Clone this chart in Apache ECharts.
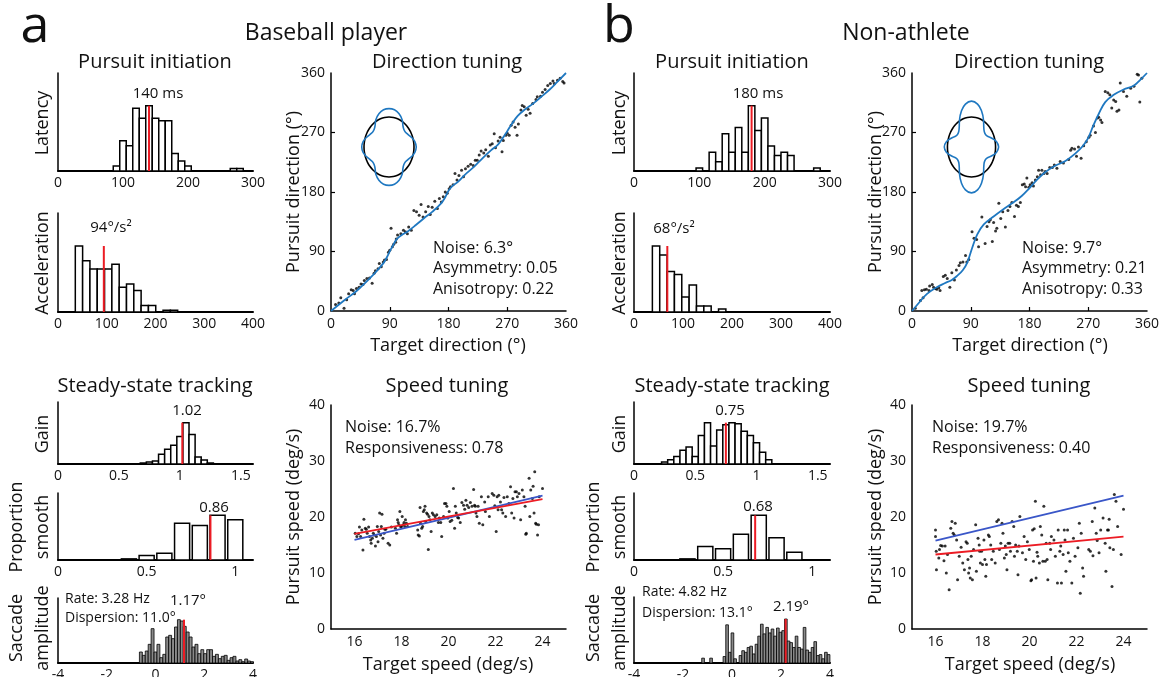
<!DOCTYPE html>
<html>
<head>
<meta charset="utf-8">
<title>Baseball player vs non-athlete</title>
<script src="https://cdn.jsdelivr.net/npm/echarts@6/dist/echarts.min.js"></script>
<style>
html, body { margin: 0; padding: 0; background: #fff; }
#chart { width: 1161px; height: 677px; }
</style>
</head>
<body>
<div id="chart"></div>
<script>
// ---- values ----
// histograms: [bin centre, count]
const latencyBaseball = [[90,2],[100,12],[110,10],[120,25],[130,21],[140,26],[150,21],[160,20],[170,20],[180,7],[190,4],[200,2],[270,1],[280,1]]
const accelBaseball = [[43,40],[58,31],[73,26],[88,26],[103,26],[118,29],[133,15],[148,17],[163,13],[178,4],[193,4],[223,1],[238,1]]
const gainBaseball = [[0.70,1],[0.75,2],[0.80,3],[0.85,10],[0.90,15],[0.95,19],[1.00,28],[1.05,42],[1.10,30],[1.15,7],[1.20,4],[1.25,1]]
const smoothBaseball = [[0.4,1],[0.5,4],[0.6,6],[0.7,33],[0.8,31],[0.9,40],[1.0,36]]
const saccadeBaseball = [33,23,36,56,103,33,56,16,26,78,83,73,108,130,126,110,93,78,48,56,28,40,28,40,40,20,26,13,20,23,8,16,20,6,10,4,12,6,4]
const saccadeBaseballBins = [-0.6, 0.12] // first centre, width
const meansBaseball = [140, 94, 1.02, 0.86, 1.17]

const latencyNonAthlete = [[100,1],[120,6],[130,3],[140,12],[150,6],[160,14],[170,6],[180,21],[190,13],[200,17],[210,8],[220,5],[230,6],[240,5],[280,1]]
const accelNonAthlete = [[45,44],[60,38],[75,27],[90,25],[105,10],[120,18],[135,4],[150,4],[180,2]]
const gainNonAthlete = [[0.25,2],[0.30,4],[0.35,7],[0.40,13],[0.45,16],[0.50,7],[0.55,27],[0.60,39],[0.65,17],[0.70,32],[0.75,37],[0.80,39],[0.85,38],[0.90,31],[0.95,27],[1.00,20],[1.05,11],[1.10,4]]
const smoothNonAthlete = [[0.3,1],[0.4,12],[0.5,10],[0.6,23],[0.7,40],[0.8,20],[0.9,7]]
const saccadeNonAthlete = [15,0,0,15,0,0,0,0,20,118,33,93,13,0,23,38,33,48,52,28,58,83,120,90,110,93,105,83,108,95,100,136,68,63,48,83,48,43,110,40,33,48,66,23,26,13,33,26]
const saccadeNonAthleteBins = [-1.181, 0.109]
const meansNonAthlete = [180, 68, 0.75, 0.68, 2.19]

// direction tuning: [target, pursuit] in degrees
const dirBaseball = [[7,10],[12,12],[15,20],[20,4],[24,17],[27,26],[31,32],[34,31],[36,26],[39,34],[43,36],[46,41],[49,40],[51,46],[55,49],[59,50],[63,42],[66,57],[68,61],[72,64],[74,72],[77,67],[80,74],[82,77],[85,78],[88,89],[90,92],[92,125],[94,97],[96,101],[99,104],[100,109],[102,115],[107,117],[111,122],[114,120],[117,117],[119,127],[123,122],[127,152],[131,150],[135,145],[138,161],[141,142],[145,150],[149,158],[152,146],[155,157],[159,166],[163,155],[166,170],[169,165],[172,173],[175,180],[178,178],[181,185],[183,188],[187,191],[190,208],[193,198],[196,205],[200,213],[203,203],[206,215],[210,219],[214,222],[218,220],[221,228],[224,228],[227,236],[230,242],[234,239],[237,244],[241,234],[244,251],[247,253],[250,268],[252,247],[256,257],[259,263],[262,241],[264,258],[268,266],[270,269],[273,266],[276,281],[279,286],[282,278],[285,266],[287,283],[291,304],[293,311],[296,309],[299,296],[302,305],[305,299],[309,314],[314,320],[316,324],[321,325],[324,331],[328,335],[332,341],[336,344],[340,348],[342,344],[347,349],[351,352],[355,347],[357,345]]
const dirFitBaseball = [[0,0],[20,16],[40,31],[66,56],[80,72],[86,82],[91,92],[96,101],[101,109],[110,116],[117,120],[130,130],[142,140],[155,150],[168,162],[175,172],[180,182],[187,190],[194,195],[205,206],[219,218],[232,231],[245,243],[255,251],[262,260],[270,272],[277,283],[286,295],[296,304],[310,314],[322,324],[335,335],[347,347],[360,360]]
const dirNonAthlete = [[5,4],[13,16],[17,20],[15,31],[19,32],[22,33],[26,31],[27,38],[31,40],[33,36],[36,34],[38,33],[41,35],[43,31],[48,52],[51,54],[54,49],[58,36],[61,58],[65,47],[68,62],[72,69],[74,73],[78,74],[82,84],[84,74],[87,78],[92,120],[95,110],[99,108],[102,97],[107,142],[112,102],[115,128],[118,135],[120,138],[123,105],[125,134],[128,121],[130,125],[133,163],[136,140],[139,150],[143,127],[147,152],[150,158],[153,164],[157,143],[160,160],[163,158],[166,164],[169,191],[172,192],[174,188],[176,201],[179,187],[181,191],[184,194],[186,189],[189,198],[192,203],[194,213],[197,206],[199,213],[202,208],[204,211],[207,208],[211,217],[215,217],[218,221],[222,216],[227,226],[232,224],[240,229],[243,243],[245,246],[249,245],[252,234],[255,248],[259,231],[263,250],[267,256],[271,263],[273,266],[278,280],[281,270],[284,292],[286,293],[289,289],[291,285],[296,332],[300,330],[303,327],[306,307],[309,319],[312,317],[314,302],[317,304],[319,345],[324,332],[329,325],[335,337],[340,340],[345,358],[347,357],[349,316],[352,352]]
const dirFitNonAthlete = [[0,0],[12,14],[23,26],[38,36],[50,42],[61,47],[70,54],[78,62],[85,74],[92,95],[100,116],[110,131],[125,143],[140,154],[155,164],[168,174],[180,186],[192,199],[204,210],[218,219],[235,227],[250,238],[262,250],[270,262],[278,281],[286,298],[296,316],[309,327],[324,335],[340,341],[350,350],[360,360]]

// polar insets: radius every 10 deg over one quadrant (0..90), mirrored
const insetBaseball = [1.09,1.05,0.95,0.86,0.82,0.88,1.05,1.18,1.26,1.28]
const insetNonAthlete = [1.13,1.05,0.88,0.74,0.72,0.80,1.00,1.25,1.45,1.53]

// speed tuning: [target, pursuit] in deg/s
const speedBaseball = [[16.03,17.1],[16.10,16.5],[16.17,17.0],[16.21,18.2],[16.26,16.5],[16.31,17.7],[16.36,14.1],[16.40,19.6],[16.46,18.0],[16.50,17.8],[16.54,17.1],[16.60,18.2],[16.64,16.5],[16.69,15.9],[16.71,15.3],[16.76,16.2],[16.80,17.1],[16.84,16.8],[16.89,14.8],[16.93,16.5],[16.97,18.3],[17.00,15.6],[17.03,17.4],[17.07,20.7],[17.11,16.8],[17.14,18.3],[17.17,20.5],[17.21,16.2],[17.26,17.1],[17.29,17.8],[17.33,17.8],[17.43,15.3],[17.50,15.0],[17.57,18.2],[17.74,18.0],[17.79,17.1],[17.83,19.5],[17.86,19.0],[17.89,18.6],[17.93,21.0],[17.96,18.3],[18.00,18.3],[18.03,20.1],[18.07,18.6],[18.11,19.0],[18.14,18.3],[18.17,19.5],[18.21,18.9],[18.26,18.3],[18.69,17.7],[18.71,16.8],[18.76,16.6],[18.79,21.7],[18.81,18.9],[18.86,18.0],[18.90,18.3],[18.93,21.0],[18.97,21.3],[19.00,21.9],[19.03,19.2],[19.07,20.7],[19.11,20.5],[19.14,14.2],[19.17,20.1],[19.21,19.5],[19.26,17.4],[19.31,20.7],[19.36,20.4],[19.43,20.1],[19.50,20.4],[19.57,19.0],[19.61,19.8],[19.67,19.0],[19.71,16.5],[19.79,20.1],[19.83,22.4],[19.89,22.4],[19.93,21.9],[19.97,19.8],[20.03,21.0],[20.07,19.2],[20.14,19.4],[20.21,25.1],[20.26,18.0],[20.29,21.9],[20.33,20.7],[20.39,19.9],[20.43,19.8],[20.50,19.0],[20.57,22.6],[20.64,22.1],[20.69,21.4],[20.74,23.0],[20.79,22.1],[20.86,21.7],[20.93,22.6],[21.00,21.9],[21.07,24.9],[21.11,22.1],[21.14,21.9],[21.17,20.7],[21.21,20.1],[21.26,21.9],[21.31,18.9],[21.40,23.6],[21.46,18.6],[21.54,22.7],[21.57,21.0],[21.69,23.6],[21.74,20.1],[21.86,24.2],[21.93,23.9],[21.97,22.0],[22.03,17.4],[22.07,23.6],[22.11,21.3],[22.14,23.9],[22.21,22.7],[22.26,21.3],[22.31,20.7],[22.36,23.5],[22.43,20.1],[22.50,23.6],[22.57,22.4],[22.64,25.4],[22.69,20.7],[22.74,23.3],[22.79,19.8],[22.83,24.5],[22.89,24.5],[22.93,23.6],[23.00,24.2],[23.07,19.5],[23.14,24.8],[23.21,23.6],[23.26,21.9],[23.29,16.9],[23.31,17.1],[23.43,26.9],[23.46,20.1],[23.50,24.8],[23.57,23.3],[23.60,25.5],[23.64,20.7],[23.67,28.1],[23.71,18.9],[23.74,18.7],[23.79,16.8],[23.83,18.6],[23.86,23.6],[24.00,25.1]]
const speedNonAthlete = [[16.00,17.7],[16.00,16.5],[16.03,13.9],[16.04,10.6],[16.14,12.7],[16.17,14.2],[16.22,14.9],[16.29,14.8],[16.36,12.2],[16.41,14.8],[16.46,10.0],[16.51,13.3],[16.58,7.0],[16.65,18.0],[16.70,19.2],[16.75,17.1],[16.80,16.8],[16.84,18.9],[16.90,15.9],[16.94,8.8],[17.01,13.0],[17.09,14.6],[17.16,11.8],[17.23,10.6],[17.30,15.6],[17.35,15.3],[17.38,12.4],[17.41,10.0],[17.45,10.9],[17.48,9.1],[17.52,13.0],[17.57,8.8],[17.62,14.2],[17.71,18.6],[17.74,10.3],[17.81,16.2],[17.86,15.0],[17.88,13.9],[17.91,11.8],[17.96,13.9],[18.00,11.5],[18.06,15.9],[18.10,12.4],[18.14,9.4],[18.17,11.5],[18.25,16.8],[18.29,16.5],[18.35,15.0],[18.39,12.4],[18.46,13.9],[18.54,11.8],[18.61,19.2],[18.68,19.5],[18.72,14.2],[18.78,15.3],[18.83,18.9],[18.87,17.1],[18.93,12.7],[18.97,14.8],[19.01,13.3],[19.04,10.6],[19.09,15.3],[19.16,15.3],[19.19,13.9],[19.26,19.2],[19.33,18.3],[19.36,13.0],[19.41,15.0],[19.48,13.9],[19.51,9.7],[19.55,14.8],[19.59,20.1],[19.70,13.6],[19.77,16.5],[19.84,12.4],[19.91,15.6],[19.99,14.2],[20.06,8.6],[20.09,8.8],[20.13,17.7],[20.17,12.1],[20.20,17.9],[20.25,22.8],[20.28,9.1],[20.32,13.7],[20.35,13.0],[20.42,11.8],[20.46,18.3],[20.52,16.8],[20.57,12.1],[20.61,21.9],[20.67,12.1],[20.71,15.3],[20.75,12.4],[20.78,8.8],[20.86,15.3],[20.90,14.2],[20.93,16.5],[21.04,15.9],[21.10,13.0],[21.19,8.2],[21.22,17.7],[21.29,13.9],[21.33,14.8],[21.36,8.2],[21.43,13.3],[21.48,17.7],[21.51,15.9],[21.55,10.3],[21.62,17.7],[21.65,13.6],[21.72,12.1],[21.80,8.2],[21.87,16.2],[21.94,13.0],[22.06,14.5],[22.12,18.9],[22.16,6.4],[22.20,17.1],[22.26,10.9],[22.30,9.4],[22.52,14.2],[22.59,13.9],[22.67,19.2],[22.70,13.1],[22.78,21.6],[22.84,17.1],[22.88,15.8],[22.96,13.6],[23.03,17.7],[23.13,19.8],[23.22,15.3],[23.25,10.3],[23.32,17.7],[23.36,17.7],[23.39,19.6],[23.42,14.5],[23.51,7.6],[23.57,14.2],[23.61,24.0],[23.68,22.8],[23.75,18.3],[23.90,13.3],[24.00,21.4]]
// [blue unity-ish line, red regression]
const speedFitBaseball = [[[16,15.9],[24,23.8]], [[16,17.0],[24,23.2]]]
const speedFitNonAthlete = [[[16,15.8],[24,23.8]], [[16,13.3],[24,16.5]]]

// ---- styling ----
const FONT = '"Open Sans", "DejaVu Sans", sans-serif'
const INK = '#111'
const RED = '#ec1c24'
const FIT_BLUE = '#1f78c1'
const LINE_BLUE = '#3a56c8'

const grid = [], xAxis = [], yAxis = [], series = [], graphic = []

function addGrid(box) {
  grid.push({ left: box[0], top: box[1], width: box[2], height: box[3], containLabel: false, outerBoundsMode: 'none' })
  return grid.length - 1
}

function axis(i, min, max, labels, o = {}) {
  return {
    gridIndex: i, type: 'value', min, max,
    splitLine: { show: false },
    axisLine: { show: true, onZero: false, lineStyle: { color: '#000', width: o.lw || 1.5 } },
    axisTick: o.tick
      ? { show: true, inside: true, length: 4, customValues: o.tick, lineStyle: { color: '#000', width: 1.2 } }
      : { show: false },
    axisLabel: labels
      ? { show: true, customValues: labels, color: INK, fontSize: 14, fontFamily: FONT, margin: o.margin || 5 }
      : { show: false }
  }
}

function histogram(box, range, labels, bars, binW, mean, fill, stroke) {
  const i = addGrid(box)
  const peak = Math.max(...bars.map(b => b[1]))
  xAxis.push(axis(i, range[0], range[1], labels, { lw: 2 }))
  yAxis.push(axis(i, 0, peak * 1.5, null))
  series.push({
    type: 'custom', xAxisIndex: i, yAxisIndex: i, silent: true,
    data: bars.filter(b => b[1] > 0),
    renderItem: (params, api) => {
      const a = api.coord([api.value(0) - binW / 2, 0])
      const b = api.coord([api.value(0) + binW / 2, api.value(1)])
      return {
        type: 'rect',
        shape: { x: a[0], y: b[1], width: b[0] - a[0], height: a[1] - b[1] },
        style: { fill, stroke: '#000', lineWidth: stroke }
      }
    }
  })
  series.push({
    type: 'line', xAxisIndex: i, yAxisIndex: i, silent: true, z: 5,
    data: [[mean, 0], [mean, peak]], symbol: 'none',
    lineStyle: { color: RED, width: 2 }
  })
}

// bins given as first centre + width
const binned = (counts, bins) => counts.map((c, k) => [bins[0] + k * bins[1], c])

function scatterPanel(box, xr, xLabels, yr, yLabels, ticks, points, fits) {
  const i = addGrid(box)
  xAxis.push(axis(i, xr[0], xr[1], xLabels, { tick: ticks && ticks[0], margin: 6 }))
  yAxis.push(axis(i, yr[0], yr[1], yLabels, { tick: ticks && ticks[1], margin: 6 }))
  series.push({
    type: 'scatter', xAxisIndex: i, yAxisIndex: i, silent: true,
    data: points, symbolSize: 3, itemStyle: { color: '#000' }
  })
  fits.forEach(f => series.push({
    type: 'line', xAxisIndex: i, yAxisIndex: i, silent: true, z: 4,
    data: f.data, smooth: f.smooth || false, symbol: 'none',
    lineStyle: { color: f.color, width: 1.8 }
  }))
}

function inset(box, quarter) {
  const i = addGrid(box)
  xAxis.push({ gridIndex: i, type: 'value', min: -1.6, max: 1.6, show: false })
  yAxis.push({ gridIndex: i, type: 'value', min: -1.6, max: 1.6, show: false })
  const ring = [], shape = []
  for (let k = 0; k <= 36; k++) {
    const deg = k * 10
    const q = deg <= 90 ? deg : deg <= 180 ? 180 - deg : deg <= 270 ? deg - 180 : 360 - deg
    const r = quarter[q / 10]
    const t = deg * Math.PI / 180
    ring.push([Math.cos(t), Math.sin(t)])
    shape.push([r * Math.cos(t), r * Math.sin(t)])
  }
  series.push({ type: 'line', xAxisIndex: i, yAxisIndex: i, silent: true, data: ring, smooth: true, symbol: 'none', lineStyle: { color: '#000', width: 1.6 } })
  series.push({ type: 'line', xAxisIndex: i, yAxisIndex: i, silent: true, data: shape, smooth: true, symbol: 'none', lineStyle: { color: FIT_BLUE, width: 1.6 } })
}

function text(x, y, s, size, o = {}) {
  graphic.push({
    type: 'text', x, y, rotation: o.rot || 0, silent: true, z: 10,
    style: {
      text: s, fill: INK, fontSize: size, fontFamily: FONT,
      fontWeight: o.weight || 'normal', align: o.align || 'center', verticalAlign: 'middle'
    }
  })
}

// ---- panels ----
function column(dx, hx, sx, means, lat, acc, gain, smooth, sac, sacBins, dir, dirFit, insetR, insetBox, speed, speedFit, sacTop) {
  histogram([hx, 73, dx, 98], [0, 300], [0, 100, 200, 300], lat, 10, means[0], '#fff', 1.5)
  histogram([hx, 213, dx, 99], [0, 400], [0, 100, 200, 300, 400], acc, 15, means[1], '#fff', 1.5)
  histogram([hx, 402, dx, 62], [0, 1.6], [0, 0.5, 1, 1.5], gain, 0.05, means[2], '#fff', 1.5)
  histogram([hx, 493, dx, 67], [0, 1.1], [0, 0.5, 1], smooth, 0.085, means[3], '#fff', 1.5)
  histogram([hx, sacTop, dx, 663 - sacTop], [-4, 4], [-4, -2, 0, 2, 4], binned(sac, sacBins), sacBins[1], means[4], '#8a8a8a', 0.8)
  scatterPanel([sx, 73, 235, 238], [0, 360], [0, 90, 180, 270, 360], [0, 360], [0, 90, 180, 270, 360],
    [[90, 180, 270], [90, 180, 270]], dir, [{ data: dirFit, color: FIT_BLUE, smooth: 0.4 }])
  inset(insetBox, insetR)
  scatterPanel([sx, 405, 235, 224], [15, 25], [16, 18, 20, 22, 24], [0, 40], [0, 10, 20, 30, 40],
    null, speed, [{ data: speedFit[0], color: LINE_BLUE }, { data: speedFit[1], color: RED }])
}

column(195, 58, 331, meansBaseball, latencyBaseball, accelBaseball, gainBaseball, smoothBaseball,
  saccadeBaseball, saccadeBaseballBins, dirBaseball, dirFitBaseball, insetBaseball, [349, 99, 80, 96],
  speedBaseball, speedFitBaseball, 598)
column(196, 634, 912, meansNonAthlete, latencyNonAthlete, accelNonAthlete, gainNonAthlete, smoothNonAthlete,
  saccadeNonAthlete, saccadeNonAthleteBins, dirNonAthlete, dirFitNonAthlete, insetNonAthlete, [933, 99, 77, 96],
  speedNonAthlete, speedFitNonAthlete, 597)

// ---- text ----
const UP = { rot: Math.PI / 2 }
text(35, 27, 'a', 52)
text(326, 33, 'Baseball player', 23)
text(619, 27, 'b', 52)
text(906, 33, 'Non-athlete', 23)

;[[0, 155, 447, 294], [577, 732, 1029, 876]].forEach(([d, hc, sc, yn]) => {
  text(hc, 62, 'Pursuit initiation', 20)
  text(sc, 62, 'Direction tuning', 20)
  text(hc, 386, 'Steady-state tracking', 20)
  text(sc, 386, 'Speed tuning', 20)
  text(43 + d, 123, 'Latency', 18, UP)
  text(43 + d, 263, 'Acceleration', 18, UP)
  text(43 + d, 434, 'Gain', 18, UP)
  text(17 + d, 527, 'Proportion', 18, UP)
  text(43 + d, 527, 'smooth', 18, UP)
  text(17 + d, 628, 'Saccade', 18, UP)
  text(43 + d, 628, 'amplitude', 18, UP)
  text(yn, 192, 'Pursuit direction (°)', 18, UP)
  text(sc + 1, 346, 'Target direction (°)', 18)
  text(yn, 517, 'Pursuit speed (deg/s)', 18, UP)
  text(sc + 1, 665, 'Target speed (deg/s)', 18)
})

text(158, 94, '140 ms', 15)
text(111, 228, '94°/s²', 15)
text(187, 411, '1.02', 15)
text(214, 508, '0.86', 15)
text(188, 601, '1.17°', 15)
text(65, 599, 'Rate: 3.28 Hz', 14, { align: 'left' })
text(65, 618, 'Dispersion: 11.0°', 14, { align: 'left' })
text(433, 248, 'Noise: 6.3°', 16, { align: 'left' })
text(433, 268, 'Asymmetry: 0.05', 16, { align: 'left' })
text(433, 289, 'Anisotropy: 0.22', 16, { align: 'left' })
text(345, 427, 'Noise: 16.7%', 16, { align: 'left' })
text(345, 448, 'Responsiveness: 0.78', 16, { align: 'left' })

text(758, 94, '180 ms', 15)
text(674, 229, '68°/s²', 15)
text(730, 411, '0.75', 15)
text(758, 507, '0.68', 15)
text(791, 607, '2.19°', 15)
text(642, 592, 'Rate: 4.82 Hz', 14, { align: 'left' })
text(642, 613, 'Dispersion: 13.1°', 14, { align: 'left' })
text(1022, 248, 'Noise: 9.7°', 16, { align: 'left' })
text(1022, 268, 'Asymmetry: 0.21', 16, { align: 'left' })
text(1022, 289, 'Anisotropy: 0.33', 16, { align: 'left' })
text(932, 427, 'Noise: 19.7%', 16, { align: 'left' })
text(932, 448, 'Responsiveness: 0.40', 16, { align: 'left' })

const chart = echarts.init(document.getElementById('chart'), null, { renderer: 'canvas' })
chart.setOption({
  backgroundColor: '#fff',
  animation: false,
  grid, xAxis, yAxis, series, graphic
})
</script>
</body>
</html>
